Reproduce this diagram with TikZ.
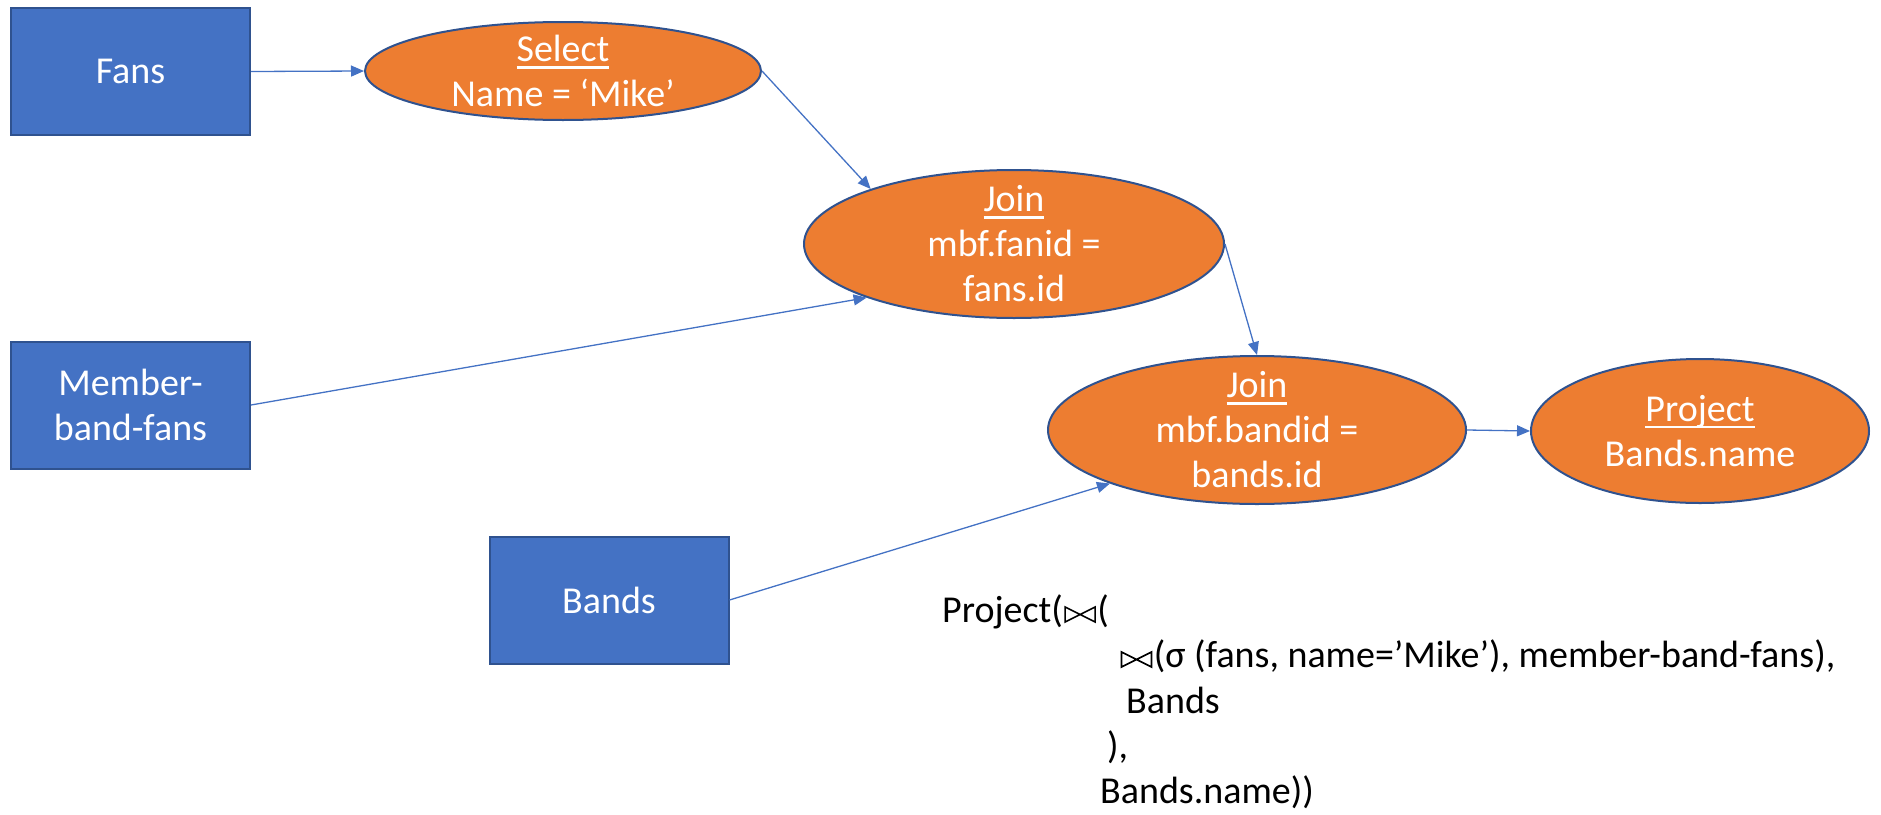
\documentclass[tikz,border=0pt]{standalone}
\usepackage{fontspec}
\setmainfont{Carlito}
\usetikzlibrary{arrows.meta,shapes.geometric}

\definecolor{boxblue}{HTML}{4472C4}
\definecolor{edgeblue}{HTML}{2F528F}
\definecolor{oporange}{HTML}{ED7D31}

% underline drawn a fixed distance below the baseline
\newcommand\undr[1]{\setbox0\hbox{#1}\rlap{\rule[-7pt]{\wd0}{2.5pt}}\box0}
% natural join symbol drawn as a bar-cross-bar glyph
\newcommand\bowt{\hspace{1.5pt}\tikz[baseline=0pt,x=1pt,y=1pt]
  \draw[line width=1.6pt, line join=miter] (0,0) -- (0,15) -- (30,0) -- (30,15) -- cycle;\hspace{1.5pt}}

\begin{document}
\begin{tikzpicture}[x=1pt,y=-1pt,
  every node/.style={font=\fontsize{38}{45}\selectfont},
  srcbox/.style={draw=edgeblue, line width=2pt, fill=boxblue, text=white,
    minimum width=239pt, minimum height=127pt, inner sep=0pt, align=center},
  opnode/.style={ellipse, draw=edgeblue, line width=2pt, fill=oporange, inner sep=0pt},
  optext/.style={text=white, align=center, inner sep=0pt},
  conn/.style={draw=boxblue, line width=1.3pt, -{Triangle[length=13pt,width=11pt]}},
  formula/.style={anchor=base west, inner sep=0pt, text=black}
]
\useasboundingbox (0,0) rectangle (1881,814);

% source relations
\node[srcbox] (fans) at (130.5,71.5) {Fans};
\node[srcbox] (mbf) at (130.5,405) {Member-\\band-fans};
\node[srcbox] (bands) at (609,600) {Bands};

% operators
\node[opnode, minimum width=396pt, minimum height=98pt,
  label={[optext]center:{\undr{Select}\\Name = ‘Mike’}}] (sel) at (563,71) {};
\node[opnode, minimum width=420pt, minimum height=148pt,
  label={[optext]center:{\undr{Join}\\mbf.fanid =\\fans.id}}] (join1) at (1014,244) {};
\node[opnode, minimum width=418pt, minimum height=148pt,
  label={[optext]center:{\undr{Join}\\mbf.bandid =\\bands.id}}] (join2) at (1257,430) {};
\node[opnode, minimum width=338pt, minimum height=144pt,
  label={[optext]center:{\undr{Project}\\Bands.name}}] (proj) at (1700,431) {};

% data flow
\draw[conn] (fans.east) -- (sel.west);
\draw[conn] (sel.east) -- (join1.159);
\draw[conn] (mbf.east) -- (join1.200);
\draw[conn] (join1.east) -- (join2.north);
\draw[conn] (bands.east) -- (join2.200);
\draw[conn] (join2.east) -- (proj.west);

% algebra expression
\node[formula] (f1) at (942,622) {Project(\bowt(};
\node[formula] (f2) at (1119,667) {\bowt(σ (fans, name=’Mike’), member-band-fans),};
\node[formula] (f3) at (1126,713) {Bands};
\node[formula] (f4) at (1107,758) {),};
\node[formula] (f5) at (1100,803) {Bands.name))};
\end{tikzpicture}
\end{document}
